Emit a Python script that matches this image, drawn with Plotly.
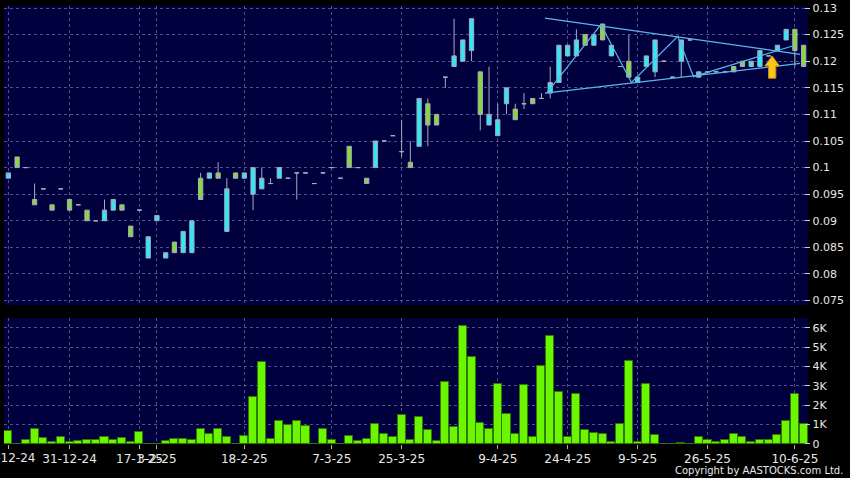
import plotly.graph_objects as go

# ---------------- data ----------------
slots = list(range(92))
opens = [0.098,0.102,0.100,0.094,0.096,0.093,0.096,0.094,0.093,0.092,0.090,0.090,0.092,0.093,0.089,0.092,
         0.083,0.090,0.083,0.086,0.084,0.084,0.098,0.098,0.099,0.088,0.099,0.098,0.095,0.096,0.097,0.098,
         0.098,0.099,0.099,0.097,0.099,0.100,0.098,0.104,0.100,0.098,0.100,0.105,0.106,0.103,0.101,0.104,
         0.112,0.110,0.117,0.119,0.120,0.122,0.118,0.108,0.106,0.112,0.111,0.112,0.113,0.113,0.114,0.116,
         0.121,0.121,0.125,0.123,0.127,0.121,0.119,0.120,0.116,0.119,0.118,0.120,0.117,0.120,0.124,0.117,
         0.118,0.118,0.118,0.119,0.120,0.119,0.119,0.121,0.122,0.124,0.126,0.123]
highs = [0.099,0.102,0.100,0.097,0.096,0.093,0.096,0.094,0.093,0.092,0.090,0.094,0.094,0.093,0.089,0.092,
         0.087,0.091,0.084,0.086,0.088,0.090,0.099,0.099,0.101,0.098,0.099,0.099,0.100,0.100,0.098,0.100,
         0.098,0.099,0.099,0.097,0.099,0.100,0.098,0.104,0.100,0.098,0.105,0.105,0.106,0.109,0.105,0.113,
         0.113,0.110,0.117,0.128,0.124,0.128,0.118,0.119,0.112,0.115,0.112,0.114,0.113,0.114,0.119,0.123,
         0.123,0.126,0.125,0.125,0.127,0.123,0.119,0.125,0.117,0.121,0.124,0.120,0.117,0.124,0.124,0.118,
         0.118,0.118,0.118,0.119,0.120,0.120,0.122,0.121,0.123,0.126,0.126,0.123]
lows = [0.098,0.100,0.100,0.093,0.096,0.092,0.096,0.092,0.093,0.090,0.090,0.090,0.092,0.092,0.087,0.092,
        0.083,0.090,0.083,0.084,0.084,0.084,0.094,0.098,0.098,0.088,0.098,0.098,0.092,0.096,0.097,0.098,
        0.098,0.094,0.099,0.097,0.099,0.100,0.098,0.100,0.100,0.097,0.100,0.105,0.106,0.102,0.100,0.104,
        0.104,0.108,0.115,0.119,0.120,0.120,0.107,0.108,0.106,0.110,0.109,0.111,0.112,0.113,0.113,0.116,
        0.121,0.121,0.123,0.123,0.124,0.121,0.119,0.117,0.116,0.119,0.117,0.120,0.117,0.117,0.124,0.117,
        0.118,0.118,0.118,0.118,0.119,0.119,0.119,0.121,0.122,0.124,0.119,0.119]
closes = [0.099,0.100,0.100,0.093,0.096,0.092,0.096,0.092,0.093,0.090,0.090,0.092,0.094,0.092,0.087,0.092,
          0.087,0.091,0.084,0.084,0.088,0.090,0.094,0.099,0.098,0.096,0.098,0.099,0.100,0.098,0.097,0.100,
          0.098,0.099,0.099,0.097,0.099,0.100,0.098,0.100,0.100,0.097,0.105,0.105,0.106,0.103,0.100,0.113,
          0.108,0.108,0.117,0.121,0.124,0.128,0.110,0.110,0.109,0.115,0.109,0.112,0.112,0.113,0.116,0.123,
          0.123,0.124,0.123,0.125,0.124,0.123,0.119,0.117,0.117,0.121,0.124,0.120,0.117,0.124,0.124,0.118,
          0.118,0.118,0.118,0.118,0.119,0.120,0.122,0.121,0.123,0.126,0.122,0.119]
volumes = [650,0,210,790,290,90,340,120,150,210,210,380,210,330,90,600,
           0,0,140,240,270,220,760,500,770,360,0,430,2410,4240,240,1200,
           960,1170,950,0,790,210,0,430,150,270,1030,520,340,1480,190,1370,
           700,170,3210,860,6100,4500,1080,760,3090,1530,520,3060,340,4050,5580,2660,
           380,2590,700,550,520,120,1010,4300,120,3110,450,0,0,70,0,360,
           210,90,210,520,340,90,190,220,450,1170,2590,1010]

tick_slots = [0, 7, 15, 17, 27, 37, 45, 56, 64, 72, 80, 90]
tick_dates = ["18-12-24", "31-12-24", "17-1-25", "3-2-25", "18-2-25", "7-3-25", "25-3-25",
              "9-4-25", "24-4-25", "9-5-25", "26-5-25", "10-6-25"]
price_ticks = [0.075, 0.08, 0.085, 0.09, 0.095, 0.1, 0.105, 0.11, 0.115, 0.12, 0.125, 0.13]
price_labels = ["0.075", "0.08", "0.085", "0.09", "0.095", "0.1", "0.105", "0.11", "0.115", "0.12", "0.125", "0.13"]
vol_ticks = [0, 1000, 2000, 3000, 4000, 5000, 6000]
vol_labels = ["0", "1K", "2K", "3K", "4K", "5K", "6K"]

# drawn trend lines (slot, price)
upper_line = [(61.4, 0.1281), (90.6, 0.1213)]
lower_line = [(61.4, 0.1140), (90.6, 0.1196)]
zigzag = [(61.6, 0.1140), (67.8, 0.1269), (71.3, 0.1160), (76.6, 0.1247), (78.4, 0.1171), (90.0, 0.1230)]
arrow_slot, arrow_tip, arrow_neck, arrow_base = 87.4, 0.1210, 0.1191, 0.1168

# ---------------- figure ----------------
NAVY = "#00003f"
GRID = "#50508a"
TXT = "#e8e8e8"
FONT = "DejaVu Sans"

fig = go.Figure()
fig.add_trace(go.Candlestick(
    x=slots, open=opens, high=highs, low=lows, close=closes,
    increasing=dict(fillcolor="#2fe8f8", line=dict(color="#a4acbc", width=1)),
    decreasing=dict(fillcolor="#8ad83a", line=dict(color="#a4acbc", width=1)),
    whiskerwidth=0, xaxis="x", yaxis="y", hoverinfo="skip", showlegend=False))

fig.add_trace(go.Bar(
    x=slots, y=volumes, width=0.92,
    marker=dict(color="#6cf500", line=dict(color="#2f7a00", width=1)),
    xaxis="x2", yaxis="y2", hoverinfo="skip", showlegend=False))

line_style = dict(color="#5cb6ea", width=1.2)
for seg in (upper_line, lower_line, zigzag):
    fig.add_trace(go.Scatter(x=[p[0] for p in seg], y=[p[1] for p in seg], mode="lines",
                             line=line_style, xaxis="x", yaxis="y", hoverinfo="skip", showlegend=False))

hw, sw = 0.85, 0.42
arrow_path = (f"M {arrow_slot},{arrow_tip} L {arrow_slot+hw},{arrow_neck} L {arrow_slot+sw},{arrow_neck} "
              f"L {arrow_slot+sw},{arrow_base} L {arrow_slot-sw},{arrow_base} L {arrow_slot-sw},{arrow_neck} "
              f"L {arrow_slot-hw},{arrow_neck} Z")
fig.add_shape(type="path", path=arrow_path, xref="x", yref="y",
              fillcolor="#f7c51e", line=dict(color="#c88a0a", width=1), layer="above")

axis_common = dict(range=[-0.5, 91.5], tickmode="array", tickvals=tick_slots,
                   showgrid=True, gridcolor=GRID, griddash="3px,3px", gridwidth=1,
                   zeroline=False, showline=False, automargin=False, fixedrange=True)

# first date label hangs over the left edge; draw it as an annotation so it is not dropped
axis_labels = [""] + tick_dates[1:]

fig.update_layout(
    width=850, height=478,
    margin=dict(l=4, r=42, t=6, b=34),
    paper_bgcolor="#000000", plot_bgcolor=NAVY,
    font=dict(family=FONT, color=TXT, size=11),
    xaxis=dict(**axis_common, domain=[0, 1], anchor="y", showticklabels=False, ticks="",
               rangeslider=dict(visible=False)),
    xaxis2=dict(**axis_common, domain=[0, 1], anchor="y2", ticktext=axis_labels, ticks="outside",
                ticklen=4, tickcolor="#b0b0b0", tickangle=0, tickfont=dict(size=12, color=TXT, family=FONT)),
    yaxis=dict(domain=[0.3174, 1], range=[0.07417, 0.13038], side="right", anchor="free", position=0.9955,
               tickmode="array", tickvals=price_ticks, ticktext=price_labels,
               ticks="outside", ticklen=5, tickcolor="#d0d0d0",
               showgrid=True, gridcolor=GRID, griddash="3px,3px", zeroline=False, showline=False,
               tickfont=dict(size=11, color=TXT, family=FONT), automargin=False, fixedrange=True),
    yaxis2=dict(domain=[0, 0.2877], range=[0, 6500], side="right", anchor="free", position=0.9955,
                tickmode="array", tickvals=vol_ticks, ticktext=vol_labels,
                ticks="outside", ticklen=5, tickcolor="#d0d0d0",
                showgrid=True, gridcolor=GRID, griddash="3px,3px", zeroline=False, showline=False,
                tickfont=dict(size=11, color=TXT, family=FONT), automargin=False, fixedrange=True),
    bargap=0,
    annotations=[
        dict(text="Copyright by AASTOCKS.com Ltd.", xref="paper", yref="paper",
             x=1.046, y=-0.0616, xanchor="right", yanchor="middle", showarrow=False,
             font=dict(size=10, color=TXT, family=FONT)),
        dict(text=tick_dates[0], xref="x2", yref="paper", x=tick_slots[0], y=-0.033,
             xanchor="center", yanchor="middle", showarrow=False,
             font=dict(size=12, color=TXT, family=FONT)),
    ],
)

fig.write_html("out.html", config={"displayModeBar": False},
               post_script="document.body.style.margin='0';document.body.style.background='#000';")
